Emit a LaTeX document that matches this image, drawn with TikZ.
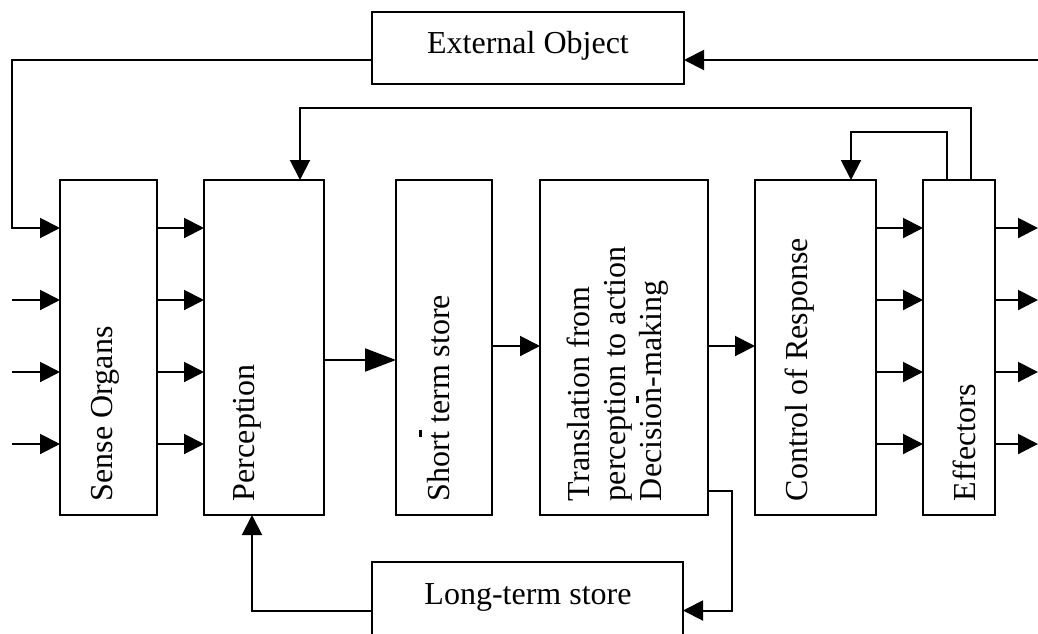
\documentclass[tikz,border=0pt]{standalone}
\usepackage{fontspec}
\setmainfont{Liberation Serif}
\usetikzlibrary{arrows.meta}
\begin{document}
\begin{tikzpicture}[x=1pt,y=-1pt, line width=2pt,
  box/.style={draw, line width=2pt, inner sep=0pt, outer sep=0pt, anchor=north west},
  arr/.style={-{Triangle[length=20pt,width=20pt]}},
  bigarr/.style={-{Triangle[length=31pt,width=23pt]}},
  lbl/.style={font=\fontsize{32}{36}\selectfont, inner sep=0pt},
  vlbl/.style={lbl, rotate=90, anchor=base west}]
\useasboundingbox (0,0) rectangle (1038,633);
% boxes
\node[box, minimum width=312pt, minimum height=72pt] (ext) at (372,12) {};
\node[box, minimum width=97pt, minimum height=335pt] (sense) at (60,180) {};
\node[box, minimum width=120pt, minimum height=335pt] (perc) at (204,180) {};
\node[box, minimum width=96pt, minimum height=335pt] (short) at (396,180) {};
\node[box, minimum width=168pt, minimum height=335pt] (trans) at (540,180) {};
\node[box, minimum width=121pt, minimum height=335pt] (ctrl) at (755,180) {};
\node[box, minimum width=72pt, minimum height=335pt] (eff) at (923,180) {};
\node[box, minimum width=311pt, minimum height=100pt] (lts) at (372,562) {};
% labels
\node[lbl, anchor=base] (extlbl) at (528,53) {External Object};
\node[lbl, anchor=base] (ltslbl) at (528,604) {Long-term store};
\node[vlbl] (senselbl) at (112,502) {Sense Organs};
\node[vlbl] (perclbl) at (254,502) {Perception};
\node[vlbl] (shortlbl) at (449,502) {Short term store};
\node[lbl, rotate=90, anchor=south west, align=left] (translbl) at (669,502) {Translation from\\perception to action\\Decision-making};
\node[vlbl] (ctrllbl) at (807,502) {Control of Response};
\node[vlbl] (efflbl) at (975,502) {Effectors};
% stray marks
\draw[line width=2.2pt] (420.5,430) -- (420.5,437);
\draw[line width=2.2pt] (637.5,396) -- (637.5,403);
% row coordinates
\coordinate (r1) at (0,228);
\coordinate (r2) at (0,300);
\coordinate (r3) at (0,372);
\coordinate (r4) at (0,444);
\coordinate (r0) at (0,60);
\coordinate (inx) at (12,0);
\coordinate (outx) at (1038,0);
\coordinate (m1) at (0,360);
\coordinate (m2) at (0,346);
% external object connectors
\draw[arr] (ext.west |- r0) -| (inx |- r1) -- (sense.west |- r1);
\draw[arr] (outx |- r0) -- (ext.east |- r0);
% inputs
\foreach \r in {r2,r3,r4} \draw[arr] (inx |- \r) -- (sense.west |- \r);
\foreach \r in {r1,r2,r3,r4} {
  \draw[arr] (sense.east |- \r) -- (perc.west |- \r);
  \draw[arr] (ctrl.east |- \r) -- (eff.west |- \r);
  \draw[arr] (eff.east |- \r) -- (outx |- \r);
}
% main chain
\draw[bigarr] (perc.east |- m1) -- (short.west |- m1);
\draw[arr] (short.east |- m2) -- (trans.west |- m2);
\draw[arr] (trans.east |- m2) -- (ctrl.west |- m2);
% feedback loops
\coordinate (fbTop) at (971,108);
\coordinate (percIn) at (300,0);
\draw[arr] (eff.north -| fbTop) -- (fbTop) -| (percIn |- perc.north);
\coordinate (cl) at (947,132);
\coordinate (ctrlIn) at (851,0);
\draw[arr] (eff.north -| cl) -- (cl) -| (ctrlIn |- ctrl.north);
% long-term store
\coordinate (tl) at (732,491);
\coordinate (ltsR) at (0,610.5);
\draw[arr] (trans.east |- tl) -- (tl) |- (lts.east |- ltsR);
\coordinate (lp) at (252,610.5);
\draw[arr] (lts.west |- lp) -- (lp) -- (lp |- perc.south);
\end{tikzpicture}
\end{document}
